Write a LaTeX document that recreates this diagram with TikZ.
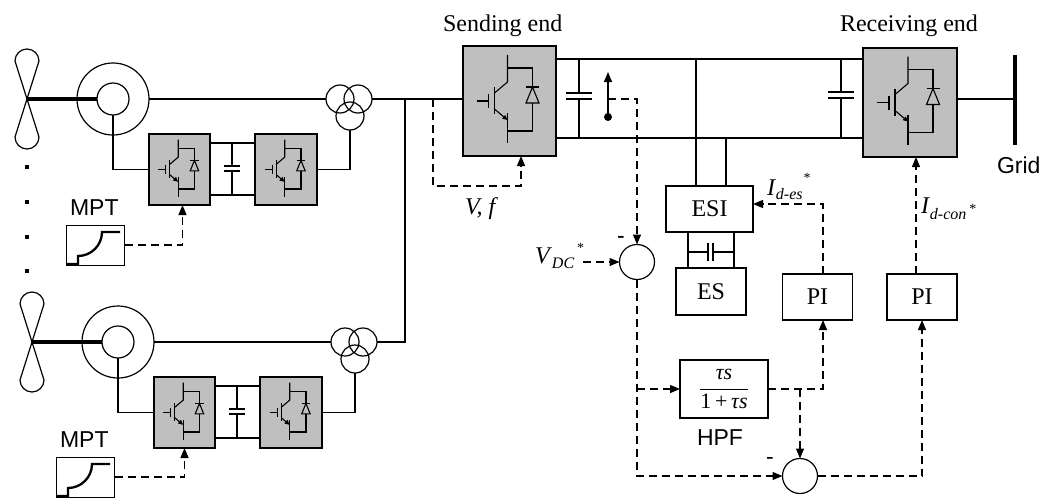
\documentclass[tikz,border=0pt]{standalone}
\usepackage{fontspec}
\setmainfont{Liberation Serif}
\setsansfont{Liberation Sans}
\usetikzlibrary{arrows.meta,calc}
\newcommand\sz[1]{\fontsize{#1}{#1}\selectfont}
% IGBT + antiparallel diode symbol inside a converter box
\newcommand\IGBT[2]{%
\begin{scope}[shift={(#1.center)},scale=#2,line width=1.1pt]
 \draw (-33,0) -- (-21,0);
 \draw (-21,-7) -- (-21,7);
 \draw (-15,-14) -- (-15,13);
 \draw (-15,-8) -- (-2,-19) -- (-2,-46);
 \draw[-{Triangle[length=5pt,width=4.5pt]}] (-15,8) -- (-2,19);
 \draw (-2,12) -- (-2,42);
 \draw (-2,-33) -- (23,-33) -- (23,-14);
 \draw (16.5,-14) -- (29.5,-14);
 \draw (16.5,2) -- (29.5,2) -- (23,-14) -- cycle;
 \draw (23,2) -- (23,30) -- (-2,30);
\end{scope}}
% wind turbine with DFIG, back-to-back converter and transformer
\newcommand\WTurb[3]{%
\begin{scope}[shift={(#2,#3)}]
 \coordinate (#1hub) at (27,99);
 \draw (#1hub) -- (15,61) .. controls (15,54.4) and (20.4,49) .. (27,49) .. controls (33.6,49) and (39,54.4) .. (39,61) -- cycle;
 \draw (#1hub) -- (15,137) .. controls (15,143.6) and (20.4,149) .. (27,149) .. controls (33.6,149) and (39,143.6) .. (39,137) -- cycle;
 \node[ring,minimum size=72pt] (#1gen) at (113,99) {};
 \node[ring,minimum size=32pt] (#1rot) at (113,99) {};
 \draw[line width=4pt] (#1hub) -- (#1rot.west);
 \node[conv,minimum width=61pt,minimum height=71pt] (#1ca) at (179.5,169.5) {};
 \node[conv,minimum width=62pt,minimum height=71pt] (#1cb) at (286,169.5) {};
 \node[ring,minimum size=28pt] (#1tl) at (340,99) {};
 \node[ring,minimum size=28pt] (#1tr) at (358,99) {};
 \node[ring,minimum size=28pt] (#1tb) at (350,116) {};
 \draw (#1gen.east) -- (#1tl.west);
 \draw (#1rot.south) |- (#1ca.west);
 \draw (#1cb.east) -| (#1tb.south);
 \coordinate (#1u) at (0,143);
 \coordinate (#1d) at (0,195);
 \draw (#1ca.east |- #1u) -- (#1cb.west |- #1u);
 \draw (#1ca.east |- #1d) -- (#1cb.west |- #1d);
 \draw (232,143) -- (232,166) (224,166) -- (240,166) (224,171) -- (240,171) (232,171) -- (232,195);
\end{scope}}
\newcommand\MPTcurve[1]{%
\begin{scope}[shift={(#1.center)}]
 \draw[line width=2.3pt] (-29,19) -- (-17,19) -- (-17,11) .. controls (-3.75,11) and (7,0.25) .. (7,-13) -- (25,-13);
\end{scope}}
\begin{document}
\begin{tikzpicture}[x=1pt,y=-1pt,line width=1.2pt,
  conv/.style={draw,fill=black!25,inner sep=0,outer sep=0},
  ring/.style={draw,circle,inner sep=0,outer sep=0},
  box/.style={draw,inner sep=0,outer sep=0,font=\sz{24}},
  sumc/.style={draw,circle,inner sep=0,outer sep=0,minimum size=35pt},
  dsh/.style={dash pattern=on 8pt off 5pt},
  arr/.style={-{Triangle[length=10pt,width=8pt]}},
  lbl/.style={inner sep=0,outer sep=0,anchor=base west}]
\useasboundingbox (0,0) rectangle (1050,498);

% turbines
\WTurb{A}{0}{0}
\WTurb{B}{5}{243}
\IGBT{Aca}{0.65}
\IGBT{Acb}{0.65}
\IGBT{Bca}{0.65}
\IGBT{Bcb}{0.65}

% dots between turbines
\foreach \i/\y in {1/167,2/202,3/237,4/271}
  \node[fill,inner sep=0,minimum size=3.5pt] (dt\i) at (27,\y) {};

% MPT blocks
\node[draw,line width=1pt,minimum width=58pt,minimum height=40pt,inner sep=0] (mptA) at (95,245) {};
\node[draw,line width=1pt,minimum width=58pt,minimum height=40pt,inner sep=0] (mptB) at (85,477) {};
\MPTcurve{mptA}
\MPTcurve{mptB}
\node[lbl,font=\sffamily\sz{23}] (lMA) at (70,215) {MPT};
\node[lbl,font=\sffamily\sz{23}] (lMB) at (60,447) {MPT};
\draw[dsh,arr] (mptA.east) -| ($(Aca.south)+(3,0)$);
\draw[dsh,arr] (mptB.east) -| (Bca.south);

% sending / receiving end converters
\node[conv,minimum width=93pt,minimum height=110pt] (SE) at (509.5,101) {};
\node[conv,minimum width=94pt,minimum height=109pt] (RE) at (910,102.5) {};
\IGBT{SE}{1}
\IGBT{RE}{1}
\node[lbl,font=\sz{24}] (lSE) at (443,31) {Sending end};
\node[lbl,font=\sz{24}] (lRE) at (840,31) {Receiving end};

% AC collection
\draw (Atr.east) -- (Atr.east -| SE.west);
\coordinate (bus) at (405,99);
\draw (Btr.east) -| (bus);

% V,f loop
\coordinate (vf1) at (433,99);
\coordinate (vf2) at (521,186);
\draw[dsh,arr] (vf1) |- (vf2) -- (vf2 |- SE.south);
\node[lbl,font=\sz{24}\itshape] (lvf) at (465,214) {V, f};

% DC link
\coordinate (dcT) at (0,59);
\coordinate (dcB) at (0,138);
\draw (SE.east |- dcT) -- (RE.west |- dcT);
\draw (SE.east |- dcB) -- (RE.west |- dcB);
\draw (579,59) -- (579,93) (566,93) -- (592,93) (566,99) -- (592,99) (579,99) -- (579,138);
\draw (841,59) -- (841,92) (828,92) -- (854,92) (828,98) -- (854,98) (841,98) -- (841,138);

% voltage sensor
\node[circle,fill,inner sep=0,minimum size=8pt] (vdot) at (608,117) {};
\coordinate (vtip) at (608,72);
\draw[arr] (vdot.center) -- (vtip);

% grid
\coordinate (gT) at (1015,55);
\coordinate (gB) at (1015,145);
\draw[line width=4.5pt] (gT) -- (gB);
\coordinate (acR) at (0,99);
\draw (RE.east |- acR) -- (gT |- acR);
\node[lbl,font=\sffamily\sz{23}] (lGrid) at (997,173) {Grid};

% energy storage
\node[box,minimum width=87pt,minimum height=46pt] (ESI) at (709.5,209) {ESI};
\node[box,minimum width=70pt,minimum height=47pt] (ES) at (711,291.5) {ES};
\coordinate (t1) at (696,59);
\coordinate (t2) at (726,138);
\draw (t1) -- (t1 |- ESI.north);
\draw (t2) -- (t2 |- ESI.north);
\coordinate (e1) at (688,232);
\coordinate (e2) at (734,232);
\draw (e1) -- (e1 |- ES.north);
\draw (e2) -- (e2 |- ES.north);
\draw (688,252) -- (708,252) (708,243) -- (708,261) (713,243) -- (713,261) (713,252) -- (734,252);

% control blocks
\node[box,minimum width=70pt,minimum height=46pt] (PI1) at (817.5,297) {PI};
\node[box,minimum width=70pt,minimum height=46pt] (PI2) at (922,297) {PI};
\node[box,minimum width=88pt,minimum height=58pt,font=\sz{22}] (HPF) at (724,389)
  {$\displaystyle\frac{\mbox{\itshape τs}}{\mbox{1\,+\,\itshape τs}}$};
\node[lbl,font=\sffamily\sz{23}] (lHPF) at (697,445) {HPF};
\node[sumc] (S1) at (637,262) {};
\node[sumc] (S2) at (800,476) {};
\node[inner sep=0,anchor=base,font=\sffamily\sz{23}] (mS1) at (621,243) {-};
\node[inner sep=0,anchor=base,font=\sffamily\sz{23}] (mS2) at (770,464) {-};

% control signals
\coordinate (vs) at (608,99);
\draw[dsh,arr] (vs) -| (S1.north);
\coordinate (vdcS) at (583,262);
\draw[dsh,arr] (vdcS) -- (S1.west);
\node[lbl,font=\sz{24}] (lvdc) at (535,263) {\textit{V}\raisebox{-5.5pt}{\sz{16}\itshape DC}\hspace{3pt}\raisebox{10.5pt}{\sz{14}*}};
\draw[dsh,arr] (S1.south) |- (S2.west);
\coordinate (b1) at (S1.south |- HPF.west);
\draw[dsh,arr] (b1) -- (HPF.west);
\coordinate (p1b) at ($(PI1.south)+(5.5,0)$);
\draw[dsh,arr] (HPF.east) -| (p1b);
\coordinate (b2) at (S2.north |- HPF.east);
\draw[dsh,arr] (b2) -- (S2.north);
\draw[dsh,arr] (S2.east) -| (PI2.south);
\coordinate (p1t) at ($(PI1.north)+(5.5,0)$);
\coordinate (esiR) at ($(ESI.east)+(0,-5)$);
\draw[dsh,arr] (p1t) |- (esiR);
\node[lbl,font=\sz{24}] (ldes) at (767,195) {\textit{I}\raisebox{-4pt}{\sz{16}\itshape d-es}\hspace{1pt}\raisebox{12.5pt}{\sz{14}*}};
\coordinate (p2t) at ($(PI2.north)+(-6,0)$);
\draw[dsh,arr] (p2t) -- (p2t |- RE.south);
\node[lbl,font=\sz{24}] (ldcon) at (921,213) {\textit{I}\raisebox{-6pt}{\sz{16}\itshape d-con}\hspace{3pt}\raisebox{0pt}{\sz{14}*}};
\end{tikzpicture}
\end{document}
